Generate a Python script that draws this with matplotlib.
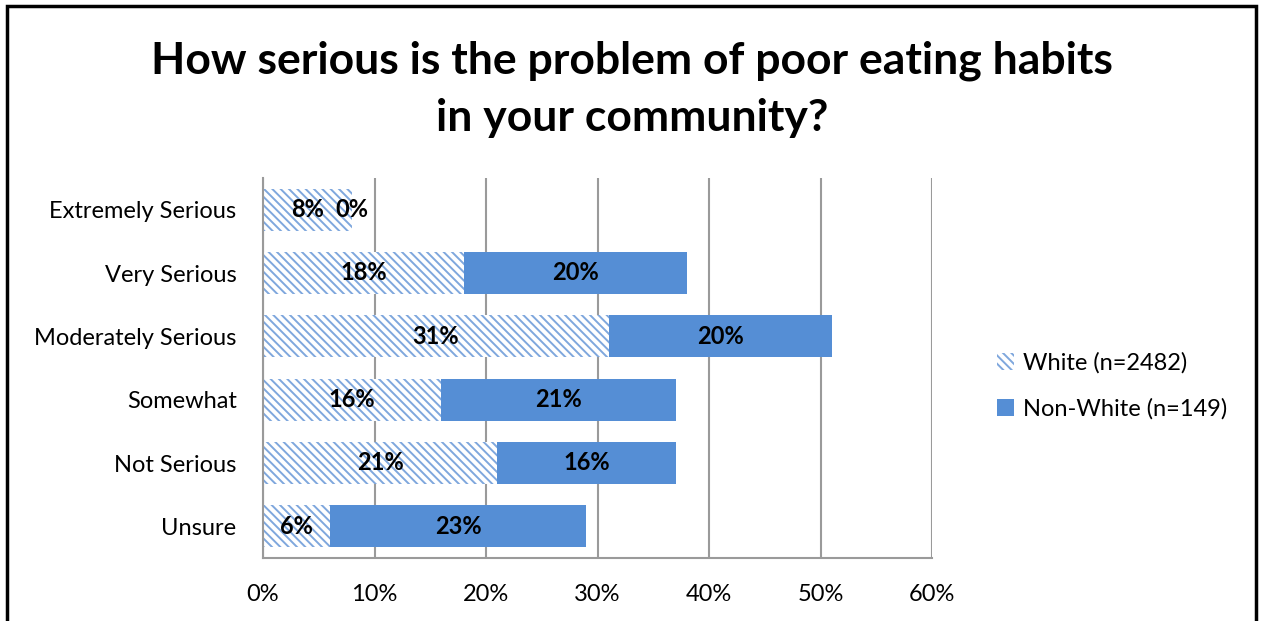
import matplotlib
matplotlib.use("Agg")
import matplotlib.pyplot as plt
import matplotlib.patches as mpatches
import numpy as np

plt.rcParams["font.family"] = ["Lato", "DejaVu Sans"]
plt.rcParams["hatch.linewidth"] = 1.4

categories = ["Extremely Serious", "Very Serious", "Moderately Serious",
              "Somewhat", "Not Serious", "Unsure"]
white_pct = [8, 18, 31, 16, 21, 6]
nonwhite_pct = [0, 20, 20, 21, 16, 23]
series_names = ["White (n=2482)", "Non-White (n=149)"]
xticks = [0, 10, 20, 30, 40, 50, 60]

BLUE = "#558ED5"
HATCH_BLUE = "#7FA7DD"
GRID = "#9A9A9A"
HATCH = "\\\\\\\\"

fig = plt.figure(figsize=(12.62, 6.21), dpi=100)
ax = fig.add_axes([263 / 1262, 1 - 558 / 621, (932 - 263) / 1262, (558 - 178) / 621])

y = np.arange(len(categories))
h = 0.66
ax.barh(y, white_pct, height=h, color="white", edgecolor=HATCH_BLUE,
        linewidth=0, hatch=HATCH, zorder=2)
ax.barh(y, nonwhite_pct, left=white_pct, height=h, color=BLUE,
        linewidth=0, zorder=2)

for i in range(len(categories)):
    ax.text(white_pct[i] / 2, y[i], f"{white_pct[i]}%", ha="center", va="center",
            fontsize=17, fontweight="bold", zorder=3)
    ax.text(white_pct[i] + nonwhite_pct[i] / 2, y[i], f"{nonwhite_pct[i]}%",
            ha="center", va="center", fontsize=17, fontweight="bold", zorder=3)

ax.set_xlim(0, 60)
ax.set_ylim(len(categories) - 0.5, -0.5)
ax.set_xticks(xticks)
ax.set_xticklabels([f"{t}%" for t in xticks], fontsize=17)
ax.set_yticks(y)
ax.set_yticklabels(categories, fontsize=17)
ax.tick_params(axis="x", length=0, pad=19)
ax.tick_params(axis="y", length=0, pad=19)
ax.grid(axis="x", color=GRID, linewidth=1.5, zorder=0)
for s in ["top", "right"]:
    ax.spines[s].set_visible(False)
for s in ["left", "bottom"]:
    ax.spines[s].set_color(GRID)
    ax.spines[s].set_linewidth(1.5)

fig.text(632 / 1262, 1 - 89 / 621,
         "How serious is the problem of poor eating habits\nin your community?",
         ha="center", va="center", fontsize=32, fontweight="bold", linespacing=1.5)

handles = [mpatches.Patch(facecolor="white", edgecolor=HATCH_BLUE, linewidth=0, hatch=HATCH),
           mpatches.Patch(facecolor=BLUE, linewidth=0)]
fig.legend(handles, series_names, loc="center left",
           bbox_to_anchor=(976 / 1262, 1 - 386 / 621), frameon=False, fontsize=17,
           handlelength=0.7, handleheight=0.7, handletextpad=0.4, labelspacing=1.05)

# outer frame around the whole chart
fig.patches.append(mpatches.Rectangle((7 / 1262, -0.05), (1256 - 7) / 1262, 1.05 - 6 / 621,
                                      transform=fig.transFigure, fill=False,
                                      edgecolor="black", linewidth=2.5))

fig.savefig("out.png", dpi=100)
